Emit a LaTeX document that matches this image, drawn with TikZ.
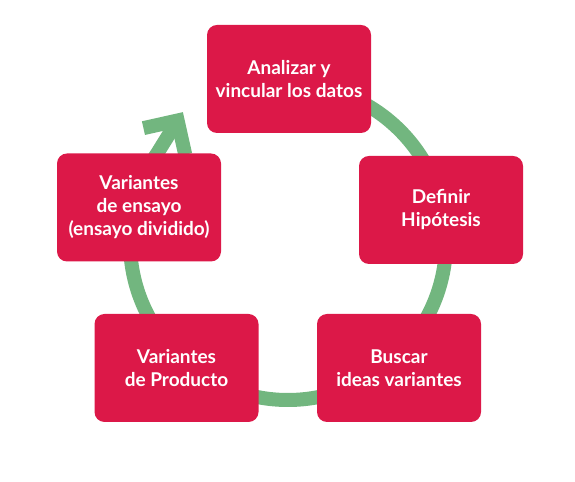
\documentclass[tikz,border=0pt]{standalone}
\usepackage{fontspec}
\setmainfont{Lato}
\usepackage{tikz}
\usetikzlibrary{positioning}
\definecolor{crimson}{HTML}{DC1848}
\definecolor{leaf}{HTML}{72B67F}

\begin{document}
\begin{tikzpicture}[x=1bp, y=1bp,
	stepbox/.style={fill=crimson, rounded corners=10bp, minimum width=164bp, minimum height=108bp, text=white, align=center, font=\fontsize{19bp}{23bp}\selectfont\bfseries},
	ring/.style={draw=leaf, line width=14bp}]

	\useasboundingbox (0,0) rectangle (575,482);
	% Ring %
	\coordinate (ctr) at (288,240);
	\coordinate (tip) at (177.6,361.5);
	\draw [ring] ([shift={(95:158)}]ctr) arc [start angle=95, end angle=-214.2, radius=158] -- (tip);
	\path (tip) ++(192.6:35) coordinate (barbA) (tip) ++(282.6:35) coordinate (barbB);
	\draw [ring, line join=miter] (barbA) -- (tip) -- (barbB);
	% Boxes %
	\node [stepbox] (datos) at (289,403) {Analizar y\\vincular los datos};
	\node [stepbox] (hipo) at (441,272) {Definir\\Hipótesis};
	\node [stepbox] (ideas) at (399,114) {Buscar\\ideas variantes};
	\node [stepbox] (prod) at (176.5,114) {Variantes\\de Producto};
	\node [stepbox] (ensayo) at (139,274.5) {Variantes\\de ensayo\\(ensayo dividido)};
\end{tikzpicture}
\end{document}
